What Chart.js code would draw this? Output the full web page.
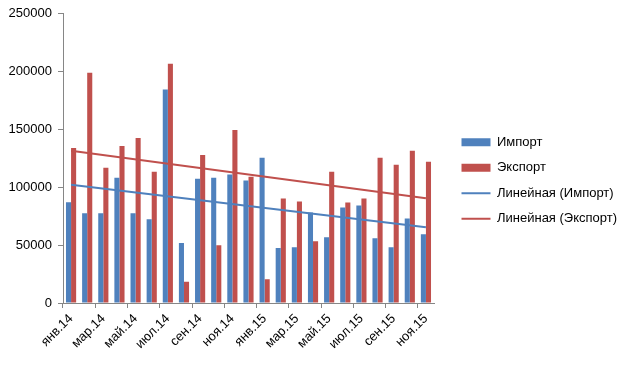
<!DOCTYPE html>
<html>
<head>
<meta charset="utf-8">
<script src="https://cdn.jsdelivr.net/npm/chart.js@4/dist/chart.umd.min.js"></script>
<style>
  html, body { margin: 0; padding: 0; background: #fff; }
  #wrap { width: 626px; height: 371px; }
</style>
</head>
<body>
<div id="wrap"><canvas id="chart" width="626" height="371"></canvas></div>
<script>
// Data
const months = ["янв.14", "фев.14", "мар.14", "апр.14", "май.14", "июн.14", "июл.14", "авг.14",
    "сен.14", "окт.14", "ноя.14", "дек.14", "янв.15", "фев.15", "мар.15", "апр.15", "май.15",
    "июн.15", "июл.15", "авг.15", "сен.15", "окт.15", "ноя.15"];
const importValues = [87000, 77500, 77500, 108300, 77500, 72500, 184600, 51800, 107400, 108300, 111000,
    105800, 125600, 47500, 48200, 78300, 56800, 82600, 84300, 56000, 48200, 73100, 59400];
const exportValues = [134000, 199100, 117000, 135700, 142600, 113500, 206900, 18300, 128000, 50000, 149500,
    109200, 20600, 90300, 87700, 53300, 113500, 86900, 90300, 125600, 119600, 131600, 122100];
// trend line ends (first and last month)
const importTrend = [102300, 65400];
const exportTrend = [131700, 90600];
const yTicks = [0, 50000, 100000, 150000, 200000, 250000];

const blue = "#4F81BD";
const red = "#C0504D";
const axisGray = "#868686";
const font = { family: "'Liberation Sans', Arial, sans-serif", size: 13 };

const trendPoints = (vals) => [
    { x: months[0], y: vals[0] },
    { x: months[months.length - 1], y: vals[1] },
];

// legend box: fixed width, moved a bit right and up
const legendPlace = {
    id: "legendPlace",
    beforeLayout(chart) {
        const lg = chart.legend;
        if (lg && !lg._fixed) {
            const fit = lg.fit.bind(lg);
            lg.fit = function () { fit(); this.width = 192; };
            lg._fixed = true;
        }
    },
    afterLayout(chart) {
        const lg = chart.legend;
        lg.left += 15;
        lg.top -= 8;
        lg.bottom -= 8;
    },
};

new Chart(document.getElementById("chart").getContext("2d"), {
    type: "bar",
    data: {
        labels: months,
        datasets: [
            { label: "Импорт", data: importValues, backgroundColor: blue, order: 1,
              categoryPercentage: 0.63, barPercentage: 1 },
            { label: "Экспорт", data: exportValues, backgroundColor: red, order: 1,
              categoryPercentage: 0.63, barPercentage: 1 },
            { type: "line", label: "Линейная (Импорт)", data: trendPoints(importTrend), order: 0,
              borderColor: blue, backgroundColor: blue, borderWidth: 2, pointRadius: 0 },
            { type: "line", label: "Линейная (Экспорт)", data: trendPoints(exportTrend), order: 0,
              borderColor: red, backgroundColor: red, borderWidth: 2, pointRadius: 0 },
        ],
    },
    plugins: [legendPlace],
    options: {
        responsive: false,
        animation: false,
        layout: { padding: { left: 0, right: 0, top: 6, bottom: 0 } },
        plugins: {
            tooltip: { enabled: false },
            legend: {
                position: "right",
                labels: {
                    color: "#000",
                    font: font,
                    usePointStyle: true,
                    pointStyleWidth: 29,
                    boxHeight: 8,
                    padding: 12.5,
                    sort: (a, b) => a.datasetIndex - b.datasetIndex,
                    generateLabels: (chart) => chart.data.datasets.map((ds, i) => ({
                        text: ds.label,
                        datasetIndex: i,
                        fillStyle: ds.backgroundColor,
                        strokeStyle: ds.borderColor || ds.backgroundColor,
                        lineWidth: ds.type === "line" ? 2 : 0,
                        pointStyle: ds.type === "line" ? "line" : "rect",
                        fontColor: "#000",
                        hidden: false,
                    })),
                },
            },
        },
        scales: {
            x: {
                offset: true,
                grid: {
                    offset: true,
                    drawOnChartArea: false,
                    drawTicks: true,
                    tickLength: 5,
                    color: (ctx) => (ctx.index % 2 === 0 ? axisGray : "rgba(0,0,0,0)"),
                },
                border: { color: axisGray, width: 1 },
                ticks: {
                    autoSkip: false,
                    maxRotation: 45,
                    minRotation: 45,
                    color: "#000",
                    font: font,
                    callback: function (val, idx) {
                        return idx % 2 === 0 ? this.getLabelForValue(val) : "";
                    },
                },
                afterFit: (scale) => { scale.height = 68; },
            },
            y: {
                min: 0,
                max: 250000,
                afterBuildTicks: (scale) => { scale.ticks = yTicks.map((v) => ({ value: v })); },
                grid: { drawOnChartArea: false, drawTicks: true, tickLength: 5, color: axisGray },
                border: { color: axisGray, width: 1 },
                ticks: { color: "#000", font: font, padding: 6, callback: (v) => String(v) },
                afterFit: (scale) => { scale.width = 63; },
            },
        },
    },
});
</script>
</body>
</html>
